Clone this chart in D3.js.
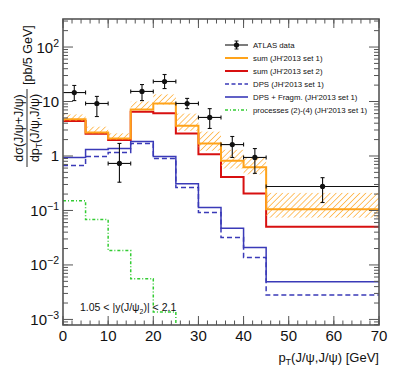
<!DOCTYPE html>
<html>
<head>
<meta charset="utf-8">
<script src="https://cdn.jsdelivr.net/npm/d3@7"></script>
<style>
  body { margin: 0; background: #fff; }
  text { font-family: "Liberation Sans", Arial, sans-serif; fill: #111; }
</style>
</head>
<body>
<div id="chart"></div>
<script>
// bin edges in pT [GeV]
var binEdges = [0, 5, 10, 15, 20, 25, 30, 35, 40, 45, 70];

// ATLAS data (value, upper, lower)
var atlasVal = [14.6, 9.2, 0.73, 15.3, 23.3, 9.2, 5.1, 1.62, 0.94, 0.276];
var atlasHi  = [19.7, 12.4, 1.70, 20.5, 31.3, 11.4, 7.4, 2.28, 1.37, 0.40];
var atlasLo  = [10.4, 5.3, 0.33, 10.4, 17.3, 7.4, 3.2, 0.94, 0.48, 0.14];

// sum (JH'2013 set 1) with uncertainty band
var sumSet1   = [4.7, 2.7, 2.1, 7.1, 9.2, 3.6, 1.7, 0.82, 0.62, 0.105];
var sumSet1Hi = [5.8, 3.45, 2.6, 10.0, 13.5, 6.0, 2.8, 1.3, 0.95, 0.21];
var sumSet1Lo = [4.4, 2.6, 2.0, 6.9, 8.8, 2.9, 1.25, 0.59, 0.46, 0.074];

// sum (JH'2013 set 2)
var sumSet2 = [4.4, 2.55, 1.97, 6.5, 6.1, 2.6, 1.08, 0.41, 0.205, 0.05];

// DPS and DPS + fragmentation
var dps     = [0.67, 0.98, 1.16, 1.7, 0.9, 0.265, 0.092, 0.032, 0.0137, 0.0028];
var dpsFrag = [0.94, 1.32, 1.37, 1.85, 0.98, 0.31, 0.113, 0.047, 0.021, 0.0049];

// processes (2)-(4)
var procs = [0.15, 0.068, 0.0184, 0.0056, 0.00137, 0.0001, 0.0001, 0.0001, 0.0001, 0.0001];

var xTicks = [0, 10, 20, 30, 40, 50, 60, 70];
var yDecades = [-3, -2, -1, 0, 1, 2];

var legendLabels = ["ATLAS data", "sum (JH'2013 set 1)", "sum (JH'2013 set 2)",
  "DPS (JH'2013 set 1)", "DPS + Fragm. (JH'2013 set 1)", "processes (2)-(4) (JH'2013 set 1)"];

(function () {
var width = 399, height = 388;
var left = 63, right = 379, top = 19, bottom = 325;

var svg = d3.select("#chart").append("svg")
  .attr("width", width).attr("height", height);

var x = d3.scaleLinear().domain([0, 70]).range([left, right]);
var y = d3.scaleLog().domain([7.9e-4, 327]).range([bottom, top]);

var defs = svg.append("defs");
defs.append("clipPath").attr("id", "frame")
  .append("rect").attr("x", left).attr("y", top)
  .attr("width", right - left).attr("height", bottom - top);

var hatch = defs.append("pattern").attr("id", "hatch")
  .attr("patternUnits", "userSpaceOnUse")
  .attr("width", 4.2).attr("height", 4.2)
  .attr("patternTransform", "rotate(45)");
hatch.append("line").attr("x1", 0).attr("y1", 0).attr("x2", 0).attr("y2", 4.2)
  .attr("stroke", "#ffa31a").attr("stroke-width", 1.3);

// histogram helpers
function stepPts(vals) {
  var pts = vals.map(function (v, i) { return [binEdges[i], v]; });
  pts.push([binEdges[binEdges.length - 1], vals[vals.length - 1]]);
  return pts;
}
var stepLine = d3.line()
  .x(function (d) { return x(d[0]); })
  .y(function (d) { return y(d[1]); })
  .curve(d3.curveStepAfter);

var plot = svg.append("g").attr("clip-path", "url(#frame)");

// red sum set 2
plot.append("path").attr("d", stepLine(stepPts(sumSet2)))
  .attr("fill", "none").attr("stroke", "#d81010").attr("stroke-width", 2);

// band
var bandData = sumSet1Hi.map(function (h, i) { return { x0: binEdges[i], x1: binEdges[i + 1], hi: h, lo: sumSet1Lo[i] }; });
plot.append("g").selectAll("rect").data(bandData).enter().append("rect")
  .attr("x", function (d) { return x(d.x0); })
  .attr("width", function (d) { return x(d.x1) - x(d.x0); })
  .attr("y", function (d) { return y(d.hi); })
  .attr("height", function (d) { return y(d.lo) - y(d.hi); })
  .attr("fill", "url(#hatch)");

// orange sum set 1
plot.append("path").attr("d", stepLine(stepPts(sumSet1)))
  .attr("fill", "none").attr("stroke", "#ffa31a").attr("stroke-width", 2);

// DPS dashed, DPS+Fragm solid
plot.append("path").attr("d", stepLine(stepPts(dps)))
  .attr("fill", "none").attr("stroke", "#3a3ab8").attr("stroke-width", 1.5)
  .attr("stroke-dasharray", "5,3");
plot.append("path").attr("d", stepLine(stepPts(dpsFrag)))
  .attr("fill", "none").attr("stroke", "#3a3ab8").attr("stroke-width", 1.5);

// processes (2)-(4)
plot.append("path").attr("d", stepLine(stepPts(procs)))
  .attr("fill", "none").attr("stroke", "#33cc33").attr("stroke-width", 1.5)
  .attr("stroke-dasharray", "3,2,1,2");

// ATLAS data points
var pts = atlasVal.map(function (v, i) {
  return { x0: binEdges[i], x1: binEdges[i + 1], xc: (binEdges[i] + binEdges[i + 1]) / 2, v: v, hi: atlasHi[i], lo: atlasLo[i] };
});
var dataG = svg.append("g").attr("stroke", "#111").attr("stroke-width", 1.1);
var cap = 2;
pts.forEach(function (d) {
  var cx = x(d.xc), cy = y(d.v);
  dataG.append("line").attr("x1", x(d.x0)).attr("x2", x(d.x1)).attr("y1", cy).attr("y2", cy);
  dataG.append("line").attr("x1", cx).attr("x2", cx).attr("y1", y(d.hi)).attr("y2", y(d.lo));
  dataG.append("line").attr("x1", cx - cap).attr("x2", cx + cap).attr("y1", y(d.hi)).attr("y2", y(d.hi));
  dataG.append("line").attr("x1", cx - cap).attr("x2", cx + cap).attr("y1", y(d.lo)).attr("y2", y(d.lo));
  if (d.x0 > 0) dataG.append("line").attr("x1", x(d.x0)).attr("x2", x(d.x0)).attr("y1", cy - cap).attr("y2", cy + cap);
  if (d.x1 < 70) dataG.append("line").attr("x1", x(d.x1)).attr("x2", x(d.x1)).attr("y1", cy - cap).attr("y2", cy + cap);
  dataG.append("circle").attr("cx", cx).attr("cy", cy).attr("r", 2.6).attr("fill", "#111").attr("stroke", "none");
});

// frame and axes
var axisColor = "#555";
var minorX = d3.range(0, 71, 2);
var minorY = [];
yDecades.concat([-4]).forEach(function (e) {
  for (var k = 2; k <= 9; k++) minorY.push(k * Math.pow(10, e));
});
minorY = minorY.filter(function (v) { return v > 7.9e-4 && v < 327; });
var majorY = yDecades.map(function (e) { return Math.pow(10, e); });

var tickG = svg.append("g").attr("stroke", axisColor).attr("stroke-width", 1);
function xTick(v, len) {
  tickG.append("line").attr("x1", x(v)).attr("x2", x(v)).attr("y1", bottom).attr("y2", bottom - len);
  tickG.append("line").attr("x1", x(v)).attr("x2", x(v)).attr("y1", top).attr("y2", top + len);
}
function yTick(v, len) {
  tickG.append("line").attr("y1", y(v)).attr("y2", y(v)).attr("x1", left).attr("x2", left + len);
  tickG.append("line").attr("y1", y(v)).attr("y2", y(v)).attr("x1", right).attr("x2", right - len);
}
minorX.forEach(function (v) { xTick(v, 4.5); });
xTicks.forEach(function (v) { xTick(v, 9); });
minorY.forEach(function (v) { yTick(v, 5); });
majorY.forEach(function (v) { yTick(v, 10); });

svg.append("rect").attr("x", left).attr("y", top)
  .attr("width", right - left).attr("height", bottom - top)
  .attr("fill", "none").attr("stroke", axisColor).attr("stroke-width", 1.6);

// x tick labels
svg.append("g").selectAll("text").data(xTicks).enter().append("text")
  .attr("x", function (d) { return x(d); }).attr("y", 341)
  .attr("text-anchor", "middle").attr("font-size", 15)
  .text(function (d) { return d; });

// y tick labels
yDecades.forEach(function (e) {
  var t = svg.append("text").attr("x", 59).attr("y", y(Math.pow(10, e)) + 5.5)
    .attr("text-anchor", "end").attr("font-size", 15);
  if (e === 0) t.text("1");
  else if (e === 1) t.text("10");
  else {
    t.append("tspan").text("10");
    t.append("tspan").attr("dy", -6).attr("font-size", 10.5).text(e < 0 ? "\u2212" + (-e) : e);
  }
});

// x title
var xt = svg.append("text").attr("x", right).attr("y", 362)
  .attr("text-anchor", "end").attr("font-size", 13);
xt.append("tspan").text("p");
xt.append("tspan").attr("dy", 3).attr("font-size", 9).text("T");
xt.append("tspan").attr("dy", -3).text("(J/\u03c8,J/\u03c8) [GeV]");

// y title (fraction)
var yt = svg.append("g").attr("transform", "translate(27,128) rotate(-90)");
yt.append("line").attr("x1", -39).attr("x2", 39).attr("y1", 0).attr("y2", 0)
  .attr("stroke", "#111").attr("stroke-width", 0.9);
yt.append("text").attr("x", 0).attr("y", -4).attr("text-anchor", "middle").attr("font-size", 12.5)
  .text("d\u03c3(J/\u03c8+J/\u03c8)");
var den = yt.append("text").attr("x", 0).attr("y", 12).attr("text-anchor", "middle").attr("font-size", 12.5);
den.append("tspan").text("dp");
den.append("tspan").attr("dy", 3).attr("font-size", 8.5).text("T");
den.append("tspan").attr("dy", -3).text("(J/\u03c8,J/\u03c8)");
yt.append("text").attr("x", 43).attr("y", 4.5).attr("font-size", 12.5).text("[pb/5 GeV]");

// kinematic range label
var kt = svg.append("text").attr("x", 80).attr("y", 311).attr("font-size", 10.5);
kt.append("tspan").text("1.05 < |y(J/\u03c8");
kt.append("tspan").attr("dy", 2.5).attr("font-size", 7).text("2");
kt.append("tspan").attr("dy", -2.5).text(")| < 2.1");

// legend
var legY = d3.range(legendLabels.length).map(function (i) { return 45 + i * 13; });
var lx0 = 225, lx1 = 248;
var leg = svg.append("g");
legendLabels.forEach(function (lab, i) {
  var ly = legY[i];
  leg.append("text").attr("x", 253).attr("y", ly + 2.8).attr("font-size", 7.8).text(lab);
});
// data entry
leg.append("line").attr("x1", lx0).attr("x2", lx1).attr("y1", legY[0]).attr("y2", legY[0]).attr("stroke", "#111").attr("stroke-width", 1.1);
leg.append("line").attr("x1", 236.5).attr("x2", 236.5).attr("y1", legY[0] - 4).attr("y2", legY[0] + 4).attr("stroke", "#111").attr("stroke-width", 1.1);
leg.append("line").attr("x1", 234.5).attr("x2", 238.5).attr("y1", legY[0] - 4).attr("y2", legY[0] - 4).attr("stroke", "#111");
leg.append("line").attr("x1", 234.5).attr("x2", 238.5).attr("y1", legY[0] + 4).attr("y2", legY[0] + 4).attr("stroke", "#111");
leg.append("circle").attr("cx", 236.5).attr("cy", legY[0]).attr("r", 2.6).attr("fill", "#111");
var legStyles = [
  null,
  { c: "#ffa31a", w: 2, d: null },
  { c: "#d81010", w: 2, d: null },
  { c: "#3a3ab8", w: 1.6, d: "4,2.5" },
  { c: "#3a3ab8", w: 1.6, d: null },
  { c: "#33cc33", w: 1.5, d: "3,2,1,2" }
];
legStyles.forEach(function (s, i) {
  if (!s) return;
  leg.append("line").attr("x1", lx0).attr("x2", lx1).attr("y1", legY[i]).attr("y2", legY[i])
    .attr("stroke", s.c).attr("stroke-width", s.w).attr("stroke-dasharray", s.d);
});
})();
</script>
</body>
</html>
